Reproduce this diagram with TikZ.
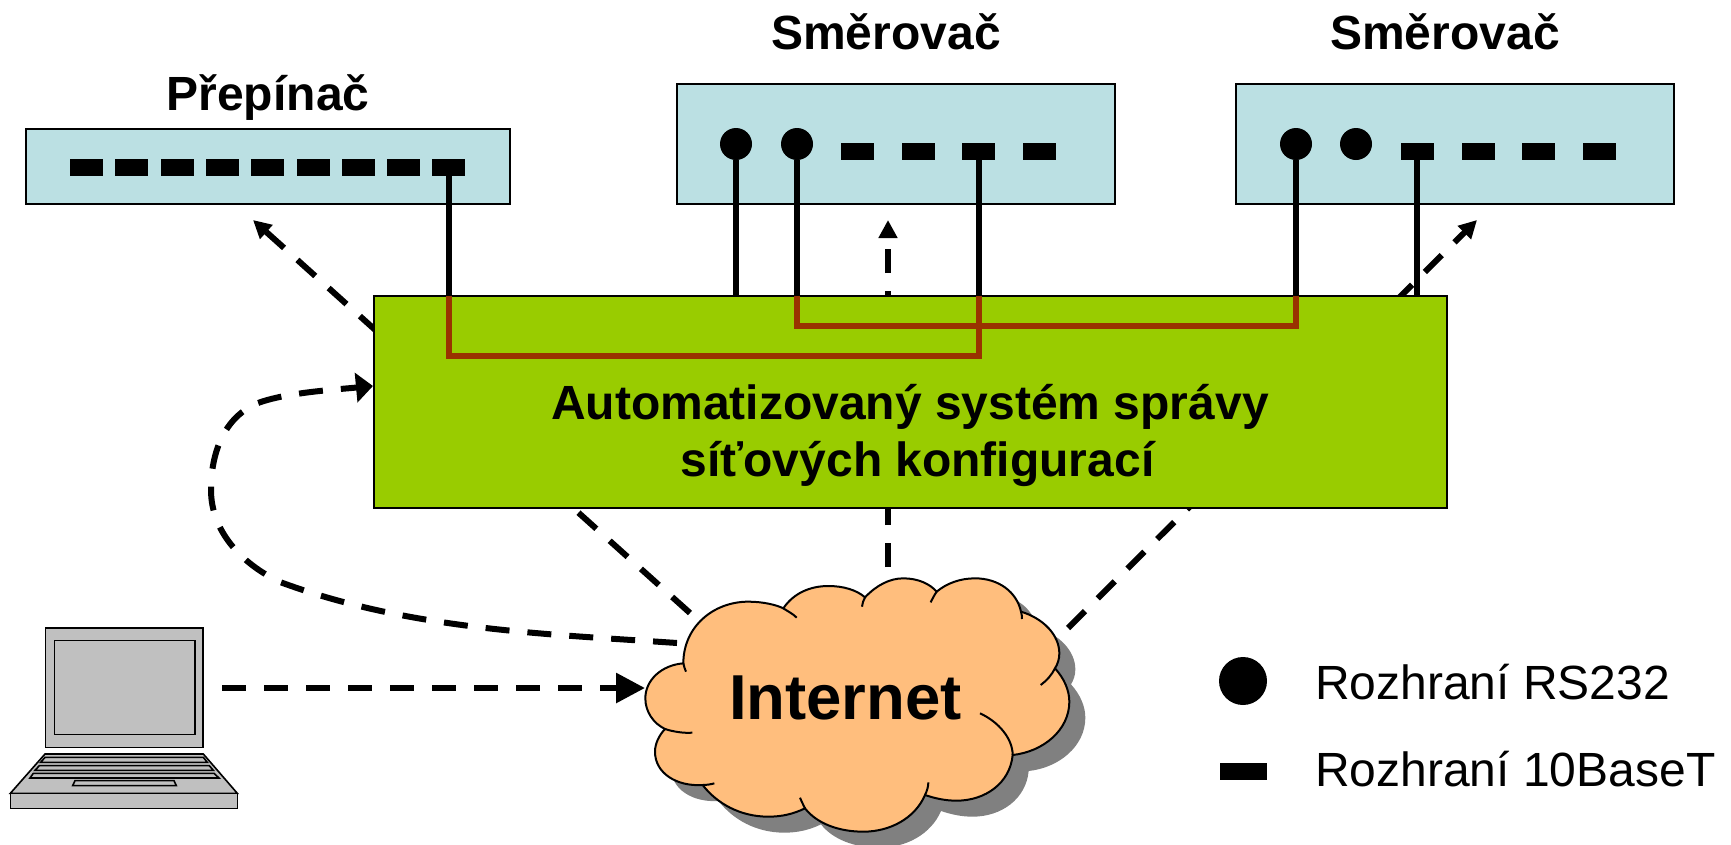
\documentclass[tikz,border=0pt]{standalone}
\usepackage{fontspec}
\setmainfont{Liberation Sans}
\usetikzlibrary{arrows.meta}
\definecolor{devblue}{HTML}{BBE0E3}
\definecolor{sysgreen}{HTML}{99CC00}
\definecolor{wirered}{HTML}{993300}
\definecolor{cloudfill}{HTML}{FFBE7D}
\definecolor{lapgrey}{HTML}{C0C0C0}
\definecolor{shadowgrey}{HTML}{808080}
\tikzset{
  device/.style={draw=black,fill=devblue,line width=2pt,inner sep=0pt,outer sep=0pt},
  sysbox/.style={draw=black,fill=sysgreen,line width=2pt,inner sep=0pt,outer sep=0pt},
  porteth/.style={fill=black,inner sep=0pt,outer sep=0pt,minimum width=33pt,minimum height=17pt},
  portser/.style={fill=black,circle,inner sep=0pt,outer sep=0pt,minimum size=32pt},
  wire/.style={draw=black,line width=6pt},
  redwire/.style={draw=wirered,line width=6pt,miter limit=10},
  dashline/.style={draw=black,line width=6pt,dash pattern=on 24pt off 18pt},
  smalltip/.style={-{Triangle[length=18pt,width=18pt]}},
  curvetip/.style={-{Triangle[length=17pt,width=29pt]}},
  bigtip/.style={-{Triangle[length=29pt,width=29pt]}},
  title/.style={font=\fontsize{48}{57}\selectfont\bfseries,inner sep=0pt,anchor=base},
  legendtext/.style={font=\fontsize{48}{57}\selectfont,inner sep=0pt,anchor=base west},
  lapline/.style={draw=black,fill=lapgrey,line width=1.6pt,line join=miter},
  cloudline/.style={draw=black,line width=2pt},
}
\newcommand{\cloudoutline}{(190,310) .. controls (190,200) and (280,125) .. (385,125) .. controls (430,125) and (470,135) .. (490,145)
 .. controls (520,100) and (570,78) .. (625,78) .. controls (670,78) and (710,90) .. (735,112)
 .. controls (770,75) and (810,55) .. (850,55) .. controls (895,55) and (930,72) .. (950,95)
 .. controls (980,70) and (1020,55) .. (1065,55) .. controls (1135,55) and (1190,95) .. (1203,155)
 .. controls (1270,175) and (1318,225) .. (1318,280) .. controls (1318,297) and (1313,312) .. (1305,325)
 .. controls (1332,355) and (1348,390) .. (1348,425) .. controls (1348,510) and (1270,575) .. (1178,585)
 .. controls (1170,670) and (1095,722) .. (1010,722) .. controls (975,722) and (945,715) .. (915,705)
 .. controls (885,775) and (810,815) .. (730,815) .. controls (655,815) and (590,790) .. (555,745)
 .. controls (520,762) and (485,770) .. (445,770) .. controls (360,770) and (290,730) .. (248,675)
 .. controls (170,680) and (105,640) .. (105,575) .. controls (105,550) and (118,525) .. (135,507)
 .. controls (100,490) and (76,455) .. (76,415) .. controls (76,360) and (125,315) .. (190,310) -- cycle}
\begin{document}
\begin{tikzpicture}[x=1pt,y=-1pt]
\useasboundingbox (0,0) rectangle (1731,844);
\clip (0,0) rectangle (1731,844);
% free ends of the dashed connectors
\coordinate (cloudNW) at (690,613);
\coordinate (cloudN) at (888,567);
\coordinate (cloudNE) at (1068,628);
\coordinate (cloudWup) at (677,643);
\coordinate (cloudW) at (645,688);
\coordinate (swTarget) at (253,220);
\coordinate (r1Target) at (888,220);
\coordinate (r2Target) at (1477,220);
\coordinate (lapE) at (222,688);
\coordinate (asmIn) at (373,386);
\coordinate (curveA) at (280,582);
\coordinate (curveB) at (211,490);
\coordinate (curveC) at (258,403);
% dashed connectors behind the system box
\draw[dashline,smalltip] (cloudNW) -- (swTarget);
\draw[dashline,smalltip] (cloudN) -- (r1Target);
\draw[dashline,smalltip] (cloudNE) -- (r2Target);
\draw[dashline,bigtip] (lapE) -- (cloudW);
\draw[dashline,curvetip] (cloudWup) .. controls (547,634) and (410,630) .. (curveA)
  .. controls (240,563) and (211,530) .. (curveB)
  .. controls (211,447) and (228,415) .. (curveC)
  .. controls (285,393) and (330,390) .. (asmIn);
% devices
\node[device,minimum width=484pt,minimum height=75pt] (switch) at (268,166.5) {};
\node[device,minimum width=438pt,minimum height=120pt] (routerA) at (895.5,144) {};
\node[device,minimum width=438pt,minimum height=120pt] (routerB) at (1454.5,144) {};
\foreach \i in {1,...,9} \node[porteth] (sp\i) at ({86.5+45.3*(\i-1)},167) {};
\node[portser] (ra1) at (736,144) {};
\node[portser] (ra2) at (797,144) {};
\node[porteth] (ra3) at (857.5,151.5) {};
\node[porteth] (ra4) at (918,151.5) {};
\node[porteth] (ra5) at (978.5,151.5) {};
\node[porteth] (ra6) at (1039,151.5) {};
\node[portser] (rb1) at (1296,144) {};
\node[portser] (rb2) at (1356,144) {};
\node[porteth] (rb3) at (1417,151.5) {};
\node[porteth] (rb4) at (1478,151.5) {};
\node[porteth] (rb5) at (1538.5,151.5) {};
\node[porteth] (rb6) at (1599,151.5) {};
% labels
\node[title] (lblswitch) at (268,110) {Přepínač};
\node[title] (lblrouterA) at (886,49) {Směrovač};
\node[title] (lblrouterB) at (1445,49) {Směrovač};
% system box
\node[sysbox,minimum width=1073pt,minimum height=212pt] (asm) at (910,402) {};
\node[title,align=center] (asmtext) at (910,476) {Automatizovaný systém správy\\\hspace*{15pt}síťových konfigurací};
% wires
\draw[wire] (sp9.south) -- (sp9.south |- asm.north);
\draw[wire] (ra1.south) -- (ra1.south |- asm.north);
\draw[wire] (ra2.south) -- (ra2.south |- asm.north);
\draw[wire] (ra5.south) -- (ra5.south |- asm.north);
\draw[wire] (rb1.south) -- (rb1.south |- asm.north);
\draw[wire] (rb3.south) -- (rb3.south |- asm.north);
\coordinate (lowY) at (0,356);
\coordinate (highY) at (0,326);
\draw[redwire] (sp9.south |- asm.north) -- (sp9.south |- lowY) -- (ra5.south |- lowY) -- (ra5.south |- asm.north);
\draw[redwire] (ra2.south |- asm.north) -- (ra2.south |- highY) -- (rb1.south |- highY) -- (rb1.south |- asm.north);
% cloud
\begin{scope}[shift={(636,576)},x=0.33333pt,y=-0.33333pt]
  \fill[shadowgrey] \cloudoutline;
\end{scope}
\begin{scope}[shift={(620,560)},x=0.33333pt,y=-0.33333pt]
  \filldraw[fill=cloudfill,cloudline] \cloudoutline;
  \draw[cloudline] (490,145) .. controls (505,155) and (520,162) .. (530,173);
  \draw[cloudline] (735,112) .. controls (730,122) and (727,130) .. (726,140);
  \draw[cloudline] (950,95) .. controls (943,105) and (937,117) .. (932,127);
  \draw[cloudline] (1203,155) .. controls (1205,162) and (1206,170) .. (1206,177);
  \draw[cloudline] (1305,325) .. controls (1295,345) and (1280,362) .. (1262,375);
  \draw[cloudline] (1080,460) .. controls (1135,485) and (1178,535) .. (1178,585);
  \draw[cloudline] (925,667) .. controls (925,680) and (921,693) .. (915,705);
  \draw[cloudline] (540,713) .. controls (545,725) and (550,735) .. (555,745);
  \draw[cloudline] (283,670) .. controls (272,673) and (260,675) .. (248,675);
  \draw[cloudline] (135,507) .. controls (160,515) and (190,520) .. (217,518);
  \draw[cloudline] (190,310) .. controls (192,320) and (195,328) .. (198,335);
\end{scope}
\node[font=\fontsize{63.5}{70}\selectfont\bfseries,inner sep=0pt,anchor=base] (internet) at (845.5,719) {Internet};
% laptop
\begin{scope}[shift={(0,600)},x=0.33333pt,y=-0.33333pt]
  \draw[lapline] (137,84) rectangle (609,442);
  \draw[lapline] (163,122) rectangle (585,403);
  \draw[lapline] (135,462) -- (610,462) -- (712,580) -- (31,580) -- cycle;
  \draw[lapline] (31,580) rectangle (712,625);
  \draw[lapline] (135,472) -- (610,472) -- (622,487) -- (122,487) -- cycle;
  \draw[lapline] (118,497) -- (628,497) -- (640,511) -- (105,511) -- cycle;
  \draw[lapline] (100,520) -- (642,520) -- (657,534) -- (90,534) -- cycle;
  \draw[lapline] (225,542) -- (522,542) -- (529,557) -- (218,557) -- cycle;
\end{scope}
% legend
\node[fill=black,circle,inner sep=0pt,minimum size=48pt] (legser) at (1243,681) {};
\node[fill=black,inner sep=0pt,minimum width=47pt,minimum height=17pt] (legeth) at (1243.5,771.5) {};
\node[legendtext] (legsertext) at (1315,699) {Rozhraní RS232};
\node[legendtext] (legethtext) at (1315,786) {Rozhraní 10BaseT};
\end{tikzpicture}
\end{document}
